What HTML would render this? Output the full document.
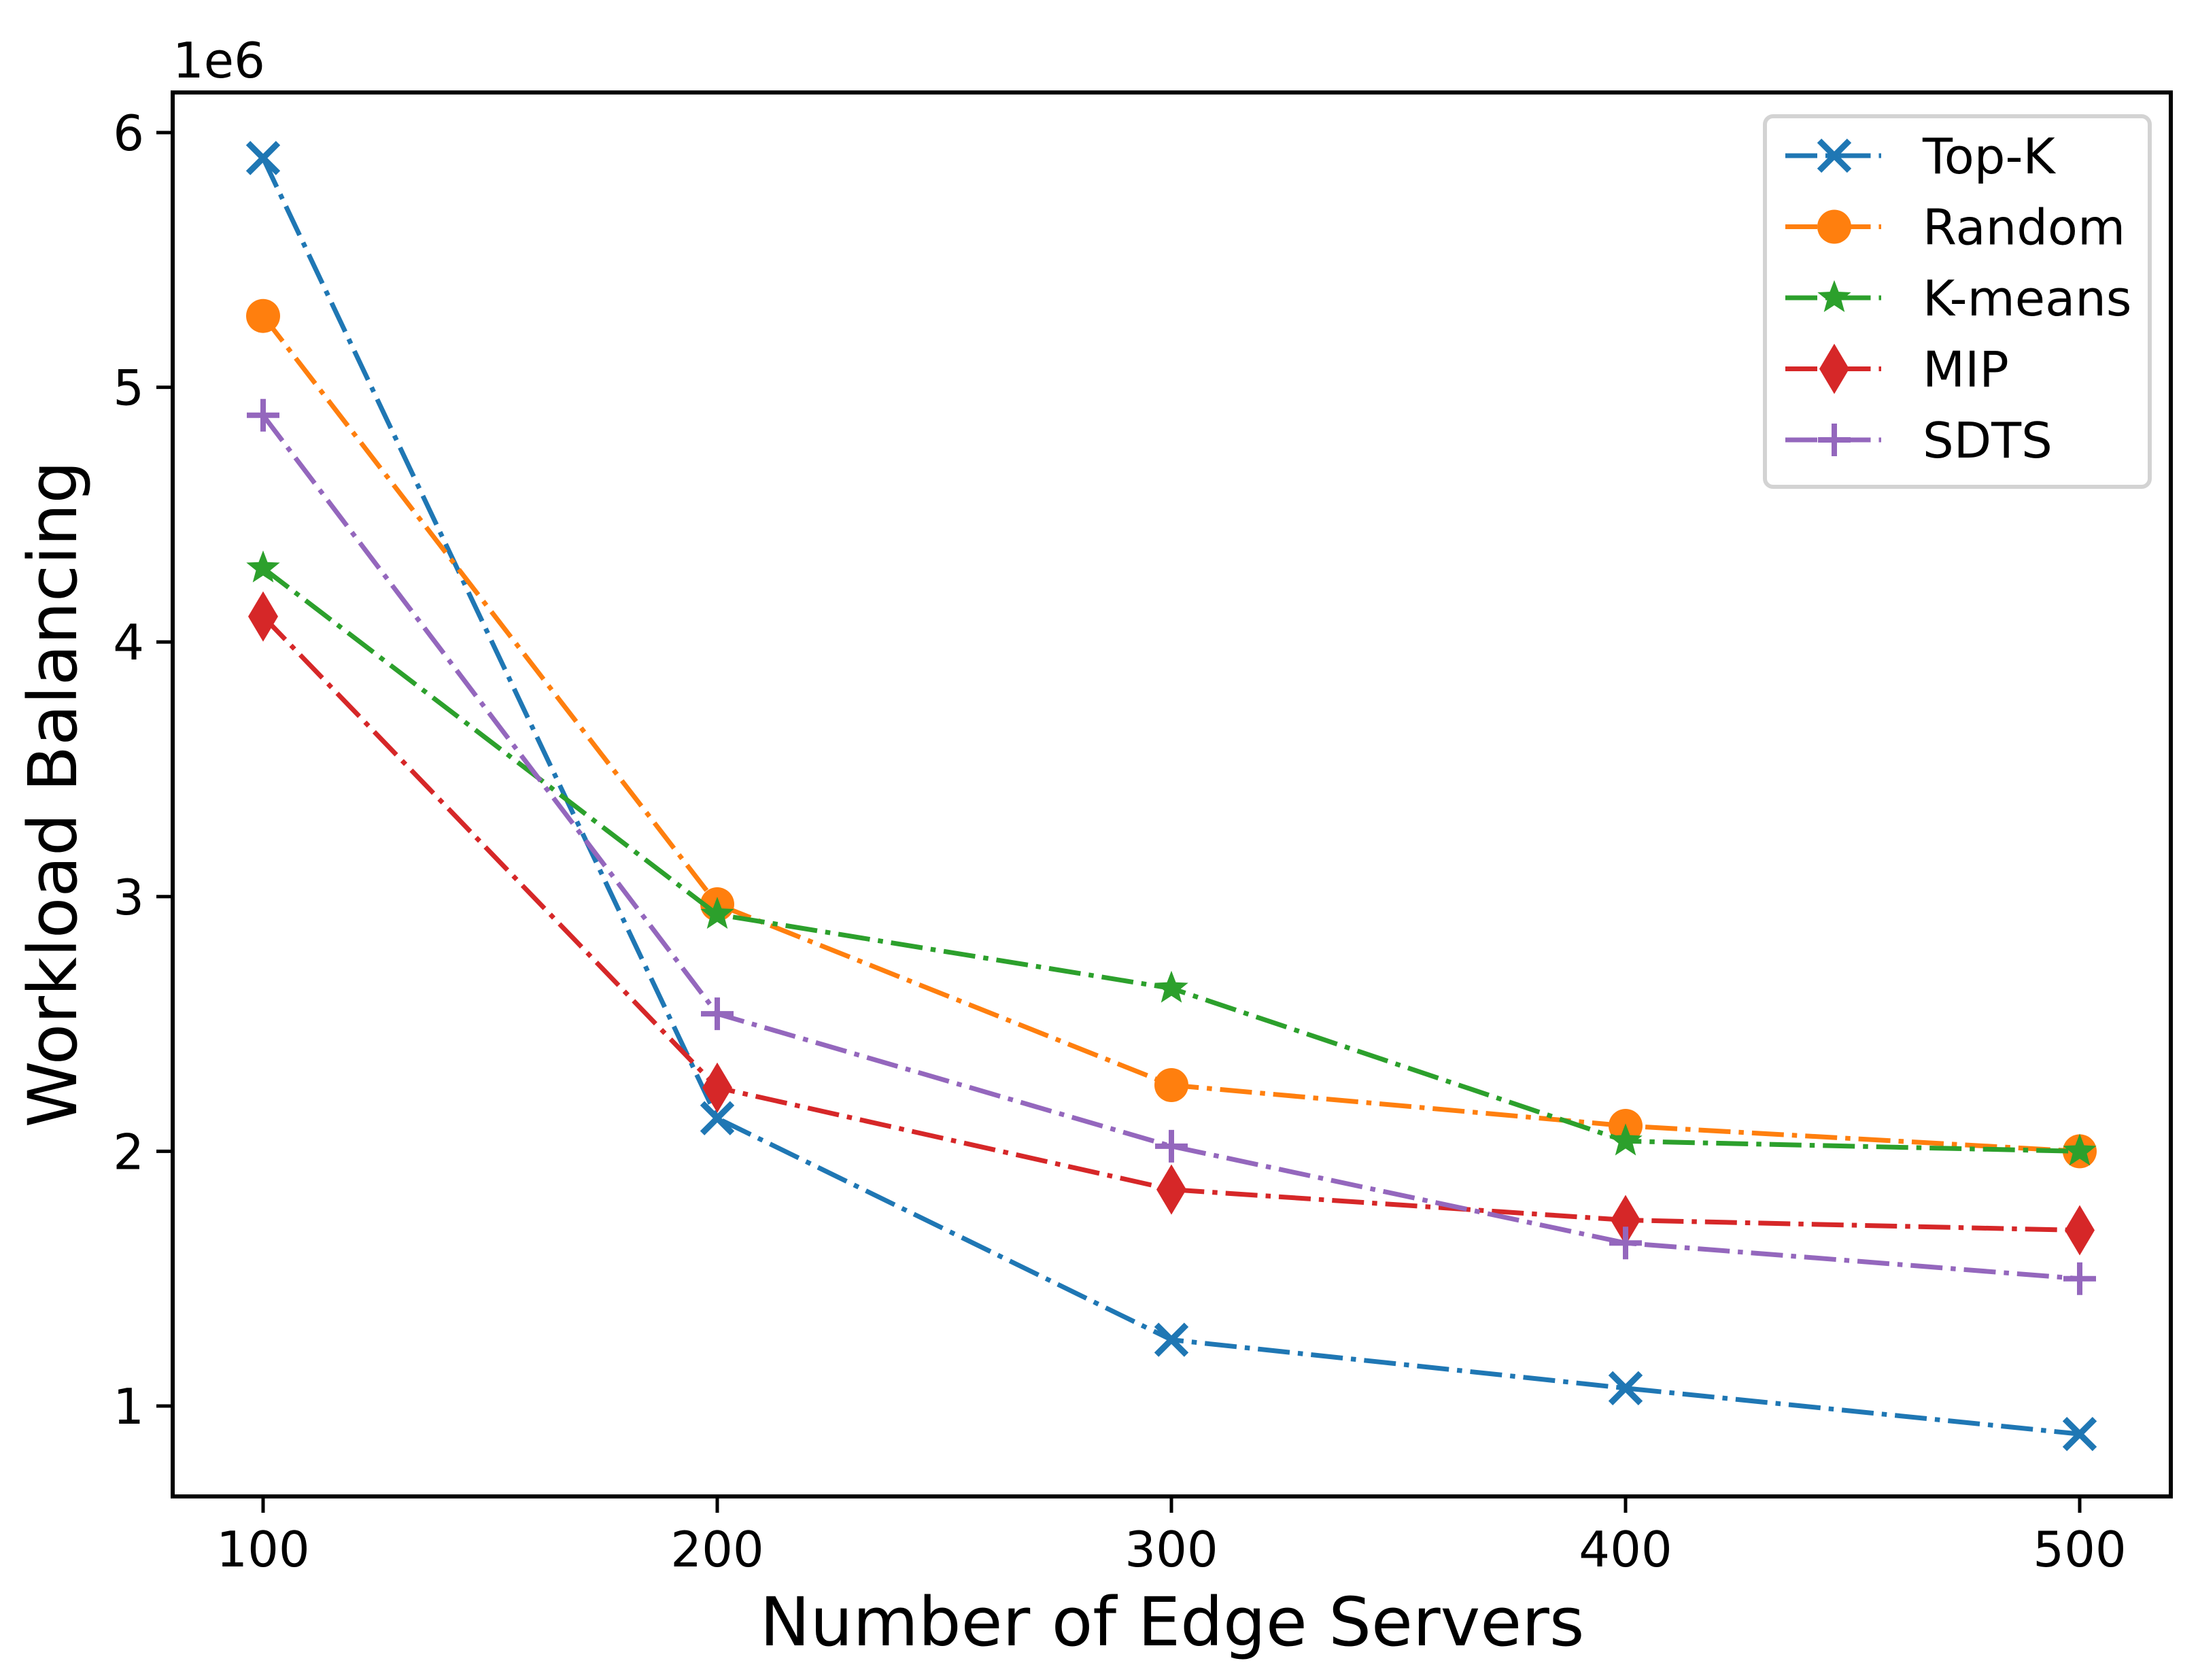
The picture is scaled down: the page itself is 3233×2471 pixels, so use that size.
<!DOCTYPE html>
<html><head><meta charset="utf-8"><style>
html,body{margin:0;padding:0;background:#fff}
svg{display:block}
text{font-family:"DejaVu Sans","Liberation Sans",sans-serif;fill:#000}
</style></head><body>
<svg id="chart" width="3233" height="2471" viewBox="0 0 3233 2471" xmlns="http://www.w3.org/2000/svg">
<rect width="3233" height="2471" fill="#fff"/>
<g id="plot"></g>
<g id="axes"></g>
<g id="legend"></g>
</svg>
<script>
const categories = [100, 200, 300, 400, 500];
const topK = [5.90, 2.13, 1.26, 1.07, 0.89];
const randomS = [5.28, 2.97, 2.26, 2.10, 2.00];
const kmeans = [4.29, 2.93, 2.64, 2.04, 2.00];
const mip = [4.10, 2.25, 1.85, 1.73, 1.69];
const sdts = [4.89, 2.54, 2.02, 1.64, 1.50];
const seriesNames = ["Top-K", "Random", "K-means", "MIP", "SDTS"];
const yTicks = [1, 2, 3, 4, 5, 6];
const xTicks = [100, 200, 300, 400, 500];

const NS = "http://www.w3.org/2000/svg";
const L = 254, R = 3193, T = 136, B = 2201;
function xScale(v){ return 387 + (v - 100) * (3059 - 387) / 400; }
function yScale(v){ return 2068 - (v - 1) * 374.6; }
function mk(tag, attrs, parent){
  const e = document.createElementNS(NS, tag);
  for (const k in attrs) e.setAttribute(k, attrs[k]);
  parent.appendChild(e);
  return e;
}
const colors = ["#1f77b4", "#ff7f0e", "#2ca02c", "#d62728", "#9467bd"];
const markers = ["x", "o", "*", "d", "+"];
const allData = [topK, randomS, kmeans, mip, sdts];
const plot = document.getElementById("plot");
const axes = document.getElementById("axes");
const legend = document.getElementById("legend");

function drawMarker(type, cx, cy, color, parent){
  let m;
  if (type === "x") {
    const s = 22;
    m = mk("path", {d:`M${cx-s},${cy-s}L${cx+s},${cy+s}M${cx-s},${cy+s}L${cx+s},${cy-s}`, stroke:color, "stroke-width":9, fill:"none"}, parent);
  } else if (type === "o") {
    m = mk("circle", {cx:cx, cy:cy, r:25, fill:color}, parent);
  } else if (type === "*") {
    let pts = [];
    for (let i = 0; i < 10; i++) {
      const r = i % 2 === 0 ? 26 : 11;
      const a = -Math.PI/2 + i * Math.PI/5;
      pts.push((cx + r*Math.cos(a)).toFixed(1) + "," + (cy + r*Math.sin(a)).toFixed(1));
    }
    m = mk("polygon", {points:pts.join(" "), fill:color}, parent);
  } else if (type === "d") {
    m = mk("polygon", {points:`${cx},${cy-37} ${cx+22},${cy} ${cx},${cy+37} ${cx-22},${cy}`, fill:color}, parent);
  } else {
    const s = 24;
    m = mk("path", {d:`M${cx-s},${cy}L${cx+s},${cy}M${cx},${cy-s}L${cx},${cy+s}`, stroke:color, "stroke-width":8, fill:"none"}, parent);
  }
  return m;
}

allData.forEach((data, si) => {
  const g = mk("g", {}, plot);
  
  
  const d = data.map((v, i) => (i ? "L" : "M") + xScale(categories[i]) + "," + yScale(v)).join("");
  const line = mk("path", {d:d, fill:"none", stroke:colors[si], "stroke-width":7, "stroke-dasharray":"47 12 7.5 12"}, g);
  
  
  data.forEach((v, i) => {
    const m = drawMarker(markers[si], xScale(categories[i]), yScale(v), colors[si], g);
    
    
  });
});

const frame = mk("rect", {x:L, y:T, width:R-L, height:B-T, fill:"none", stroke:"#000", "stroke-width":6}, axes);



xTicks.forEach(v => {
  const x = xScale(v);
  const t = mk("line", {x1:x, x2:x, y1:B, y2:B+24, stroke:"#000", "stroke-width":5}, axes);
  
  
  const lb = mk("text", {x:x, y:2304, "text-anchor":"middle", "font-size":72}, axes);
  lb.textContent = v;
  
  
});
yTicks.forEach(v => {
  const y = yScale(v);
  const t = mk("line", {x1:L-24, x2:L, y1:y, y2:y, stroke:"#000", "stroke-width":5}, axes);
  
  
  const lb = mk("text", {x:L-42, y:y+26, "text-anchor":"end", "font-size":72}, axes);
  lb.textContent = v;
  
  
});
const off = mk("text", {x:254, y:114, "font-size":72}, axes);
off.textContent = "1e6";


const xl = mk("text", {x:1724, y:2420, "text-anchor":"middle", "font-size":99}, axes);
xl.textContent = "Number of Edge Servers";


const yl = mk("text", {x:0, y:0, "text-anchor":"middle", "font-size":99, transform:"translate(112,1168) rotate(-90)"}, axes);
yl.textContent = "Workload Balancing";



const box = mk("rect", {x:2596, y:171, width:566, height:545, rx:12, fill:"#fff", "fill-opacity":0.8, stroke:"#d3d3d3", "stroke-width":6}, legend);


seriesNames.forEach((n, i) => {
  const y = 229 + i * 104.5;
  const g = mk("g", {}, legend);
  
  
  mk("path", {d:`M2626,${y}L2767,${y}`, stroke:colors[i], "stroke-width":7, "stroke-dasharray":"47 12 7.5 12", fill:"none"}, g);
  drawMarker(markers[i], 2698, y, colors[i], g);
  const t = mk("text", {x:2828, y:y+26, "font-size":72}, g);
  t.textContent = n;
});
</script>
</body></html>
